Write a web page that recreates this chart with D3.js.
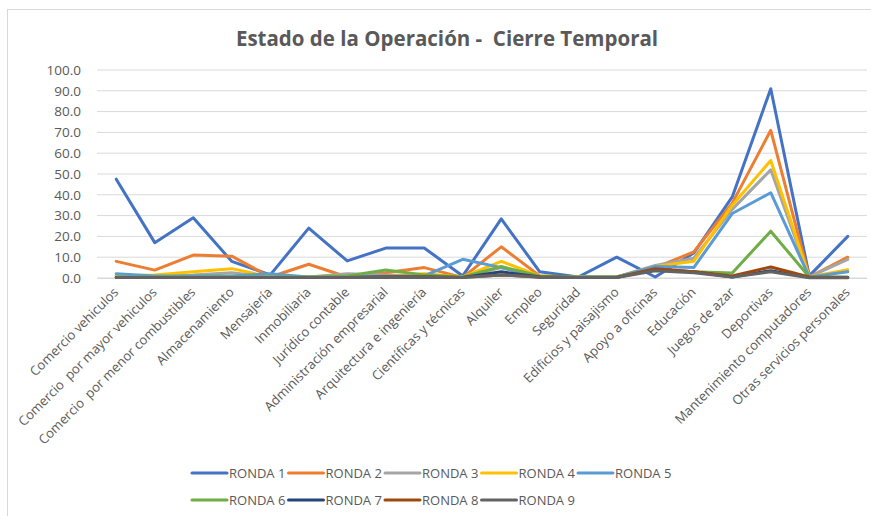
<!DOCTYPE html>
<html>
<head>
<meta charset="utf-8">
<script src="https://cdn.jsdelivr.net/npm/d3@7"></script>
<style>
	body {margin: 0; background: #fff;}
	svg {font-family: "Open Sans", "Noto Sans", sans-serif;}
	text {white-space: pre;}
</style>
</head>
<body>
<svg width="871" height="516"></svg>
<script>
let categories = ["Comercio vehiculos", "Comercio  por mayor vehiculos", "Comercio  por menor combustibles",
	"Almacenamiento", "Mensajería", "Inmobiliaria", "Jurídico contable", "Administración empresarial",
	"Arquitectura e ingeniería", "Científicas y técnicas", "Alquiler", "Empleo", "Seguridad",
	"Edificios y paisajismo", "Apoyo a oficinas", "Educación", "Juegos de azar", "Deportivas",
	"Mantenimiento computadores", "Otras servicios personales"];

let ronda1 = [47.5, 17, 29, 8, 1.5, 24, 8.2, 14.4, 14.4, 1, 28.4, 3, 0.5, 10, 0.5, 12, 39, 91, 1, 20];
let ronda2 = [8, 3.8, 11, 10.5, 0.5, 6.6, 0.5, 2.5, 5, 0.3, 15, 1, 0.5, 0.5, 5, 12.5, 36, 71, 0.5, 10];
let ronda3 = [1, 1, 1.5, 2.5, 0.5, 0.5, 2, 1.5, 1, 0.5, 5, 0.5, 0.5, 0.5, 6, 9.5, 33, 52, 0.5, 9];
let ronda4 = [1, 1.5, 3, 4.5, 0.5, 0.5, 0.5, 1, 2, 0.5, 8, 1, 0.5, 0.5, 5.5, 8, 35, 56.5, 0.5, 4];
let ronda5 = [2, 1, 1, 1, 2, 0.5, 0.5, 1, 1, 9, 5, 0.5, 0.5, 0.5, 5.5, 5, 31, 41, 0.5, 3];
let ronda6 = [0.5, 0.5, 0.5, 0.5, 0.5, 0.5, 1, 3.8, 1.5, 0.5, 5.5, 1, 0.5, 0.5, 4, 3, 2.4, 22.5, 0.5, 0.5];
let ronda7 = [0.3, 0.3, 0.3, 0.3, 0.3, 0.3, 0.3, 0.5, 0.5, 0.3, 3, 0.5, 0.3, 0.3, 4, 3, 0.5, 3.5, 0.3, 0.3];
let ronda8 = [0.3, 0.3, 0.3, 0.3, 0.3, 0.3, 0.3, 0.5, 0.5, 0.3, 1.5, 0.5, 0.3, 0.3, 4.5, 3, 1, 5.3, 0.5, 0.3];
let ronda9 = [0.2, 0.2, 0.2, 0.2, 0.2, 0.2, 0.2, 0.3, 0.3, 0.2, 1.5, 0.3, 0.2, 0.2, 3.5, 2.5, 0.5, 3, 0.1, 0.1];

let seriesNames = ["RONDA 1", "RONDA 2", "RONDA 3", "RONDA 4", "RONDA 5", "RONDA 6", "RONDA 7", "RONDA 8", "RONDA 9"];
let seriesColors = ["#4472C4", "#ED7D31", "#A5A5A5", "#FFC000", "#5B9BD5", "#70AD47", "#264478", "#9E480E", "#636363"];
let yTicks = [0, 10, 20, 30, 40, 50, 60, 70, 80, 90, 100];

let series = [ronda1, ronda2, ronda3, ronda4, ronda5, ronda6, ronda7, ronda8, ronda9].map(function(v, i) {
	return {name: seriesNames[i], color: seriesColors[i], values: v};
});

let svg = d3.select("svg");

//Rahmen
svg.append("rect")
	.attr("x", 7.5).attr("y", 9.5)
	.attr("width", 880).attr("height", 530)
	.attr("fill", "none").attr("stroke", "#D9D9D9").attr("stroke-width", 1);

svg.append("text")
	.attr("x", 447).attr("y", 46)
	.attr("text-anchor", "middle")
	.attr("font-size", 20.5).attr("font-weight", "bold")
	.attr("fill", "#595959")
	.text("Estado de la Operación -  Cierre Temporal");

let xscale = d3.scaleBand().domain(categories).range([97, 867]);
let yscale = d3.scaleLinear().domain([0, 100]).range([278, 70]);

//Gitterlinien
svg.append("g").selectAll("line")
	.data(yTicks)
	.enter().append("line")
		.attr("x1", 97).attr("x2", 867)
		.attr("y1", function(d) {return yscale(d);})
		.attr("y2", function(d) {return yscale(d);})
		.attr("stroke", "#D9D9D9").attr("stroke-width", 1);

let yaxis = d3.axisLeft(yscale)
	.tickValues(yTicks)
	.tickFormat(d3.format(".1f"))
	.tickSize(0)
	.tickPadding(0);
let gy = svg.append("g")
	.attr("transform", "translate(81,0)")
	.call(yaxis);
gy.select(".domain").remove();
gy.selectAll("text")
	.attr("font-family", "Open Sans, sans-serif")
	.attr("font-size", 13.5).attr("fill", "#595959");

let xaxis = d3.axisBottom(xscale).tickSize(0).tickPadding(0);
let gx = svg.append("g")
	.attr("transform", "translate(0,278)")
	.call(xaxis);
gx.select(".domain").attr("stroke", "#D9D9D9");
gx.selectAll("text")
	.attr("font-family", "Open Sans, sans-serif")
	.attr("font-size", 13.1).attr("fill", "#595959")
	.attr("text-anchor", "end")
	.attr("dy", null)
	.attr("y", 0)
	.attr("transform", "translate(3,15)rotate(-45)");

let line = d3.line()
	.x(function(d, i) {return xscale(categories[i]) + xscale.bandwidth() / 2;})
	.y(function(d) {return yscale(d);});

svg.append("g").selectAll("path")
	.data(series)
	.enter().append("path")
		.attr("d", function(d) {return line(d.values);})
		.attr("fill", "none")
		.attr("stroke", function(d) {return d.color;})
		.attr("stroke-width", 3)
		.attr("stroke-linejoin", "round")
		.attr("stroke-linecap", "round");

//Legende
let legend = svg.append("g").selectAll("g")
	.data(series)
	.enter().append("g")
		.attr("transform", function(d, i) {
			return "translate(" + (192 + (i % 5) * 96.5) + "," + (473 + Math.floor(i / 5) * 27) + ")";
		});
legend.append("line")
	.attr("x1", 0).attr("x2", 35)
	.attr("stroke", function(d) {return d.color;})
	.attr("stroke-width", 3).attr("stroke-linecap", "round");
legend.append("text")
	.attr("x", 37).attr("y", 5)
	.attr("font-size", 13).attr("fill", "#595959")
	.text(function(d) {return d.name;});
</script>
</body>
</html>
